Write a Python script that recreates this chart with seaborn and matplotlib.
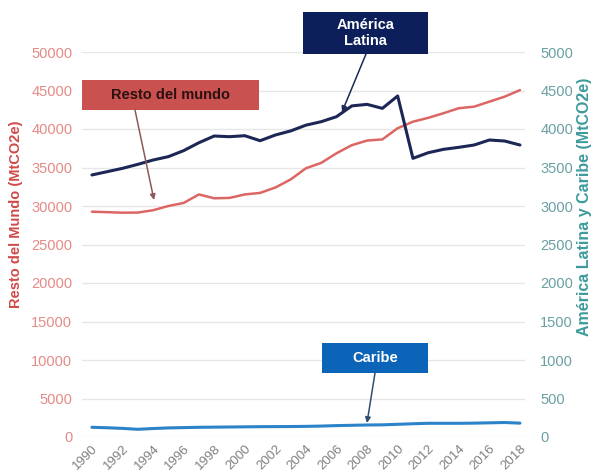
import matplotlib
matplotlib.use("Agg")
import matplotlib.pyplot as plt
from matplotlib.patches import Rectangle
import seaborn as sns
import pandas as pd

years = list(range(1990, 2019))
resto_mundo = [29260, 29200, 29130, 29150, 29450, 30000, 30400, 31500, 31000, 31050,
               31500, 31700, 32400, 33450, 34900, 35600, 36850, 37900, 38500, 38650,
               40100, 40950, 41450, 42050, 42700, 42900, 43550, 44200, 45050]
america_latina = [3403, 3446, 3489, 3541, 3597, 3641, 3719, 3822, 3909, 3900,
                  3913, 3848, 3922, 3975, 4050, 4095, 4160, 4300, 4320, 4268,
                  4429, 3619, 3692, 3736, 3762, 3792, 3857, 3844, 3792]
caribe = [126, 120, 112, 100, 110, 118, 122, 126, 128, 130,
          132, 134, 135, 136, 138, 142, 148, 152, 156, 158,
          165, 172, 178, 178, 178, 180, 184, 188, 180]
xtick_years = list(range(1990, 2019, 2))
left_ticks = list(range(0, 50001, 5000))
right_ticks = list(range(0, 5001, 500))

df = pd.DataFrame({"year": years, "resto": resto_mundo,
                   "al": america_latina, "caribe": caribe})

sns.set_style("white")
plt.rcParams["font.family"] = ["Liberation Sans", "DejaVu Sans"]

RED = "#dc6663"
NAVY = "#1c2756"
BLUE = "#2b83c9"
LEFT_TICK = "#e58a86"
RIGHT_TICK = "#6a9fa3"

fig = plt.figure(figsize=(5.95, 4.76), dpi=100)
W, H = 595, 476
ax_l, ax_r, ax_t, ax_b = 82, 525, 52, 437
ax = fig.add_axes([ax_l / W, 1 - ax_b / H, (ax_r - ax_l) / W, (ax_b - ax_t) / H])
ax2 = ax.twinx()

sns.lineplot(data=df, x="year", y="resto", ax=ax, color=RED, linewidth=1.8)
sns.lineplot(data=df, x="year", y="al", ax=ax2, color=NAVY, linewidth=2.2)
sns.lineplot(data=df, x="year", y="caribe", ax=ax2, color=BLUE, linewidth=2.2)

ax.set_xlim(1989.35, 2018.33)
ax.set_ylim(0, 50000)
ax2.set_ylim(0, 5000)
ax.set_yticks(left_ticks)
ax2.set_yticks(right_ticks)
ax.set_xticks(xtick_years)
ax.set_xticklabels([str(y) for y in xtick_years], rotation=45, ha="right",
                   rotation_mode="anchor", fontsize=9.5, color="#808080")
ax.tick_params(axis="x", length=0, pad=4)
ax.tick_params(axis="y", length=0, pad=7, labelsize=10.5, labelcolor=LEFT_TICK)
ax2.tick_params(axis="y", length=0, pad=11, labelsize=10.5, labelcolor=RIGHT_TICK)
ax.yaxis.grid(True, color="#e6e6e6", linewidth=1)
ax.set_axisbelow(True)
for a in (ax, ax2):
    for s in a.spines.values():
        s.set_visible(False)
ax.set_xlabel("")
ax.set_ylabel("Resto del Mundo (MtCO2e)", color="#d04a48", fontsize=10.5,
              fontweight="bold")
ax2.set_ylabel("América Latina y Caribe (MtCO2e)", color="#3d9a9c", fontsize=11.5,
               fontweight="bold", rotation=90)


def fx(px):
    return (px - ax_l) / (ax_r - ax_l)


def fy(py):
    return (ax_b - py) / (ax_b - ax_t)


ax.yaxis.set_label_coords(fx(23), fy(214))
ax2.yaxis.set_label_coords(fx(577), fy(207))


def box(x0, y0, x1, y1, color, text, tcolor):
    r = Rectangle((fx(x0), fy(y1)), fx(x1) - fx(x0), fy(y0) - fy(y1),
                  transform=ax2.transAxes, facecolor=color, edgecolor="none",
                  clip_on=False, zorder=5)
    ax2.add_patch(r)
    ax2.text((fx(x0) + fx(x1)) / 2, (fy(y0) + fy(y1)) / 2, text,
             transform=ax2.transAxes, ha="center", va="center", color=tcolor,
             fontsize=10.5, fontweight="bold", zorder=6, linespacing=1.2)


def arrow(p0, p1, color):
    ax2.annotate("", xy=(fx(p1[0]), fy(p1[1])), xycoords="axes fraction",
                 xytext=(fx(p0[0]), fy(p0[1])), textcoords="axes fraction",
                 arrowprops=dict(arrowstyle="-|>", color=color, lw=1.1,
                                 mutation_scale=8, shrinkA=0, shrinkB=0),
                 annotation_clip=False, zorder=6)


box(82, 80, 259, 110, "#c9514f", "Resto del mundo", "#2a1010")
arrow((135, 110), (154, 200), "#8a5a5a")
box(303, 12, 428, 54, "#0c1f5a", "América\nLatina", "white")
arrow((366, 54), (342, 112), "#1c2756")
box(322, 343, 428, 373, "#0b64b8", "Caribe", "white")
arrow((375, 373), (367, 423), "#2f4f70")

fig.savefig("out.png", dpi=100)
